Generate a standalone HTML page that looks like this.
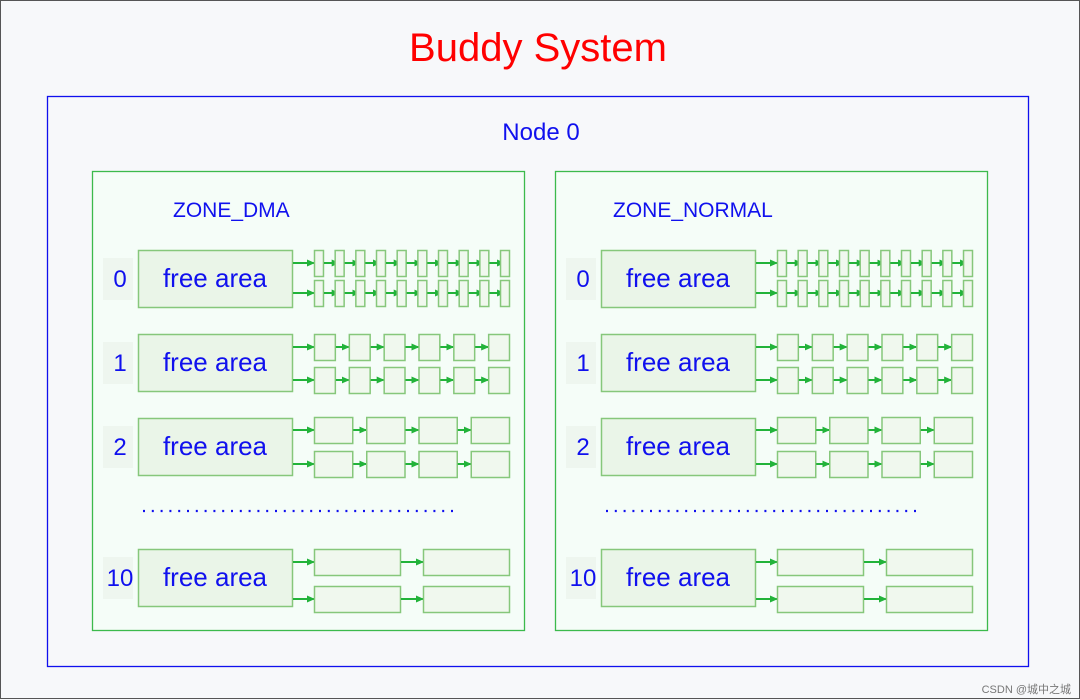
<!DOCTYPE html>
<html><head><meta charset="utf-8"><style>
html,body{margin:0;padding:0}
body{width:1080px;height:699px;background:#f7f8fa;position:relative;overflow:hidden;font-family:"Liberation Sans","DejaVu Sans",sans-serif;box-sizing:border-box;border:1px solid #555}
svg{position:absolute;left:0;top:0}
</style></head><body>
<svg id="s" width="1080" height="699" viewBox="0 0 1080 699">
<defs><marker id="ah" markerWidth="8" markerHeight="8" refX="7" refY="4" orient="auto" markerUnits="userSpaceOnUse"><path d="M0,0.5 L8,4 L0,7.5 Z" fill="#22b33a"/></marker></defs>
<text x="537" y="60" text-anchor="middle" font-size="40" fill="#ff0000">Buddy System</text>
<rect x="46.5" y="95.5" width="981" height="570" fill="#f7f8fa" stroke="#1010ee" stroke-width="1.3"/>
<text x="540" y="139" text-anchor="middle" font-size="24" fill="#1010ee">Node 0</text>
</svg>
<script>
const zones=["ZONE_DMA","ZONE_NORMAL"];
const zoneX=[91,554];
const orders=["0","1","2","10"];
const blockCounts=[10,6,4,2];
const rowTops=[249,333,417,548];
const svg=document.getElementById('s');
const NS='http://www.w3.org/2000/svg';
function mk(t,a,p){const e=document.createElementNS(NS,t);for(const k in a)e.setAttribute(k,a[k]);(p||svg).appendChild(e);return e;}
zones.forEach((z,zi)=>{
  const X=zoneX[zi];
  const g=mk('g',{});
  
  
  mk('rect',{x:X+.5,y:170.5,width:432,height:459,fill:'#f5fdf8',stroke:'#3cba4c','stroke-width':1.3},g);
  const zt=mk('text',{x:X+(zi===0?81:58),y:216,'font-size':21,fill:'#1010ee'},g);zt.textContent=z;
  orders.forEach((o,ri)=>{
    const T=rowTops[ri];
    mk('rect',{x:X+11,y:T+8,width:30,height:42,fill:'#eef6ef'},g);
    const lt=mk('text',{x:X+28,y:T+37,'font-size':24,fill:'#1010ee','text-anchor':'middle'},g);lt.textContent=o;
    
    
    const fa=mk('rect',{x:X+46.5,y:T+.5,width:154,height:57,fill:'#eaf5e8',stroke:'#86c77b','stroke-width':1.5},g);
    
    
    const ft=mk('text',{x:X+123,y:T+37,'font-size':26,fill:'#1010ee','text-anchor':'middle'},g);ft.textContent='free area';
    const n=blockCounts[ri];
    const left=X+222,right=X+417;
    const gap=n>=10?11.7:(n>=6?14:(n>=4?14:23));
    const w=(right-left-(n-1)*gap)/n;
    const step=w+gap;
    [0,1].forEach(li=>{
      const y=T+li*(ri===0?30:(ri===3?37:33))+(ri===2&&li==0?-1:0);
      const h=26;
      const cy=y+h/2;
      mk('line',{x1:X+201,y1:cy,x2:left,y2:cy,stroke:'#22b33a','stroke-width':2,'marker-end':'url(#ah)'},g);
      for(let b=0;b<n;b++){
        const bx=left+b*step;
        const r=mk('rect',{x:bx+.5,y:y+.5,width:w,height:h,fill:'#f0f8ee',stroke:'#86c77b','stroke-width':1.5},g);
        
        
        if(b<n-1){
          mk('line',{x1:bx+w+1,y1:cy,x2:bx+step+(n>=10?4:0),y2:cy,stroke:'#22b33a','stroke-width':2,'marker-end':'url(#ah)'},g);
        }
      }
    });
  });
  mk('line',{x1:X+51,y1:510,x2:X+366,y2:510,stroke:'#1010ee','stroke-width':2.2,'stroke-dasharray':'2 6.8'},g);
});
const wm=mk('text',{x:1070,y:692,'font-size':11,fill:'#777','text-anchor':'end','font-family':'"Liberation Sans","Noto Sans CJK SC",sans-serif'});
wm.textContent='CSDN @城中之城';


</script>
</body></html>
